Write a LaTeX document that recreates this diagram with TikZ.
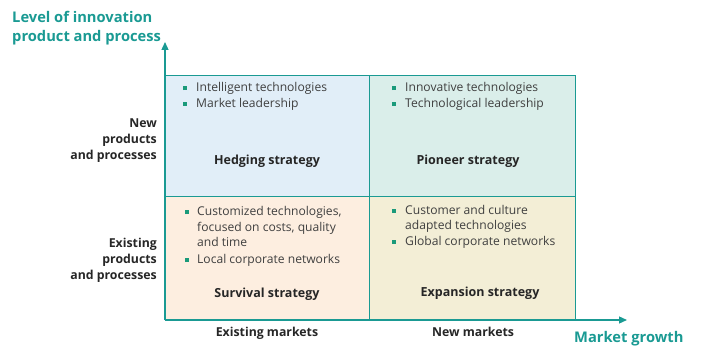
\documentclass[tikz,border=0pt]{standalone}
\usepackage{fontspec}
\setmainfont{Open Sans}
\usetikzlibrary{arrows.meta}
\definecolor{teal1}{HTML}{1A9A93}
\definecolor{bulg}{HTML}{1A9A7A}
\definecolor{txtg}{HTML}{3F3F3F}
\definecolor{cTL}{HTML}{E1EEF8}
\definecolor{cTR}{HTML}{DAEEEA}
\definecolor{cBL}{HTML}{FDEEE0}
\definecolor{cBR}{HTML}{F3EED6}
\newcommand{\bsq}{\textcolor{bulg}{\raisebox{1.8pt}{\rule{4pt}{4pt}}}}
\tikzset{
  x=1pt,y=1pt,
  cell/.style={draw=teal1, line width=1.3pt, inner sep=0pt},
  items/.style={anchor=base west, inner sep=0pt, text=txtg, font=\fontsize{12.1}{15.5}\selectfont},
  strat/.style={anchor=base, inner sep=0pt, text=black!85, font=\fontsize{12.5}{12}\selectfont\bfseries},
  side/.style={inner sep=0pt, text=black!85, font=\fontsize{12.3}{16}\selectfont\bfseries},
  axtitle/.style={inner sep=0pt, text=teal1, font=\fontsize{14.7}{19}\selectfont\bfseries},
  axis/.style={draw=teal1, line width=1.3pt, -{Triangle[length=8pt,width=7pt]}}
}
\begin{document}
\begin{tikzpicture}
\useasboundingbox (0,0) rectangle (701,-347);
% cells
\path[fill=cTL] (165,-75) rectangle (369,-196);
\path[fill=cTR] (369,-75) rectangle (575,-196);
\path[fill=cBL] (165,-196) rectangle (369,-320);
\path[fill=cBR] (369,-196) rectangle (575,-320);
\node[cell, minimum width=204pt, minimum height=121pt, anchor=north west] (tl) at (165,-75) {};
\node[cell, minimum width=206pt, minimum height=121pt, anchor=north west] (tr) at (369,-75) {};
\node[cell, minimum width=204pt, minimum height=124pt, anchor=north west] (bl) at (165,-196) {};
\node[cell, minimum width=206pt, minimum height=124pt, anchor=north west] (br) at (369,-196) {};
% axes
\coordinate (O) at (165,-320);
\coordinate (ytip) at (165,-42);
\coordinate (xtip) at (627,-320);
\draw[axis] (O) -- (ytip);
\draw[axis] (O) -- (xtip);
% items
\node[items] (tlitems) at (183,-92) {\begin{tabular}[t]{@{}l@{\hspace{9pt}}l@{}}\bsq & Intelligent technologies\\ \bsq & Market leadership\end{tabular}};
\node[items] (tritems) at (392,-92) {\begin{tabular}[t]{@{}l@{\hspace{9pt}}l@{}}\bsq & Innovative technologies\\ \bsq & Technological leadership\end{tabular}};
\node[items] (blitems) at (185,-216) {\begin{tabular}[t]{@{}l@{\hspace{8pt}}l@{}}\bsq & Customized technologies,\\ & focused on costs, quality\\ & and time\\[1.5pt] \bsq & Local corporate networks\end{tabular}};
\node[items] (britems) at (392,-214.5) {\begin{tabular}[t]{@{}l@{\hspace{9pt}}l@{}}\bsq & Customer and culture\\ & adapted technologies\\ \bsq & Global corporate networks\end{tabular}};
% strategies
\node[strat] (hedge) at (267,-164.5) {Hedging strategy};
\node[strat] (pion) at (468,-164.5) {Pioneer strategy};
\node[strat] (surv) at (267,-297) {Survival strategy};
\node[strat] (expa) at (480,-296) {Expansion strategy};
% side labels
\node[side, anchor=base east] (newp) at (157,-127.5) {\begin{tabular}[t]{@{}r@{}}New\\ products\\ and processes\end{tabular}};
\node[side, anchor=base east] (exip) at (157,-247.5) {\begin{tabular}[t]{@{}r@{}}Existing\\ products\\ and processes\end{tabular}};
% bottom labels
\node[side, anchor=base] (exm) at (267,-336) {Existing markets};
\node[side, anchor=base] (nwm) at (473,-336) {New markets};
% axis titles
\node[axtitle, anchor=base west] (ytitle) at (12,-22.5) {\begin{tabular}[t]{@{}l@{}}Level of innovation\\ product and process\end{tabular}};
\node[axtitle, anchor=base west] (xtitle) at (574,-342.5) {Market growth};
\end{tikzpicture}
\end{document}
